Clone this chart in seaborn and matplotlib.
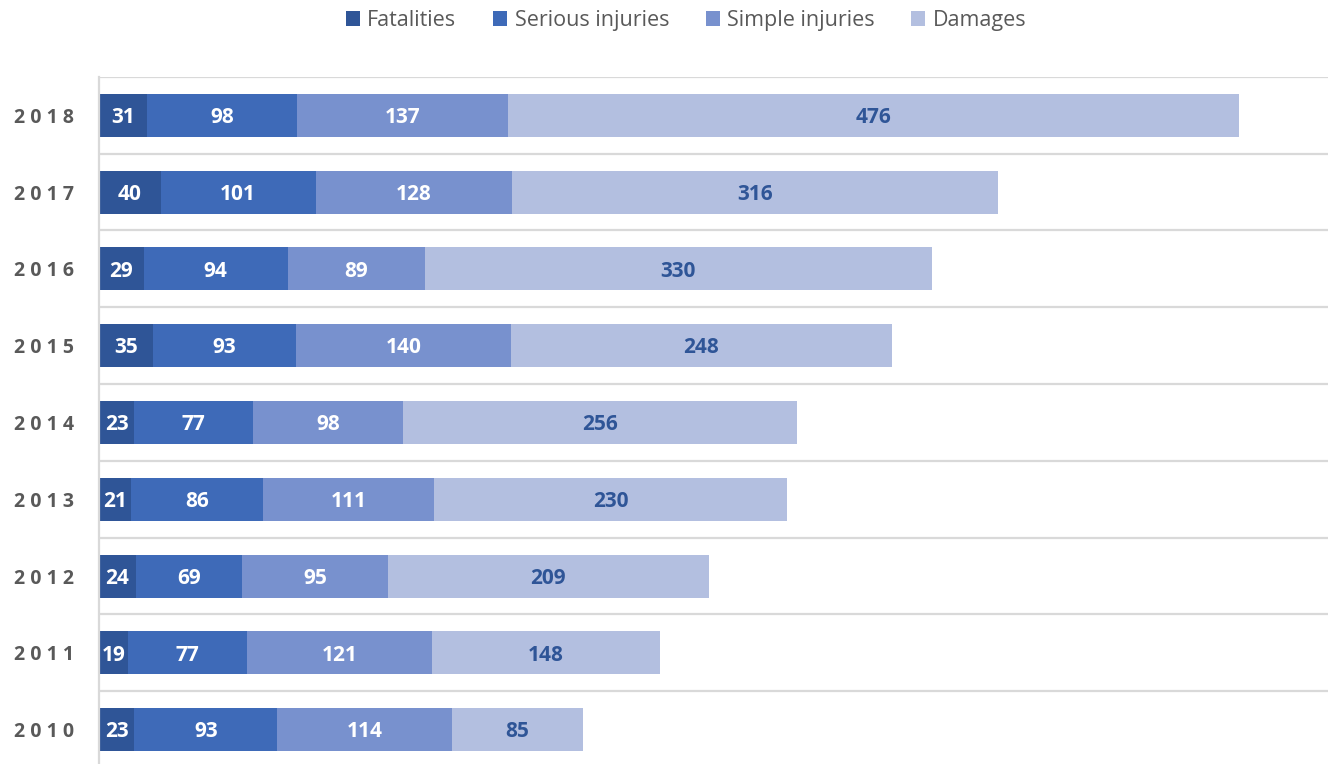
import numpy as np
import pandas as pd
import seaborn as sns
import matplotlib.pyplot as plt
from matplotlib.patches import Patch

years = ['2018', '2017', '2016', '2015', '2014', '2013', '2012', '2011', '2010']
fatalities = [31, 40, 29, 35, 23, 21, 24, 19, 23]
serious = [98, 101, 94, 93, 77, 86, 69, 77, 93]
simple = [137, 128, 89, 140, 98, 111, 95, 121, 114]
damages = [476, 316, 330, 248, 256, 230, 209, 148, 85]

series = ['Fatalities', 'Serious injuries', 'Simple injuries', 'Damages']
colors = ['#2F5597', '#3E6AB8', '#7891CE', '#B3BFE0']
text_colors = ['white', 'white', 'white', '#2F5597']

df = pd.DataFrame({'year': years, 'Fatalities': fatalities,
                   'Serious injuries': serious, 'Simple injuries': simple,
                   'Damages': damages})

sns.set_theme(style='white')
plt.rcParams['font.family'] = ['Open Sans', 'DejaVu Sans']

fig = plt.figure(figsize=(13.35, 7.64), dpi=100)
ax = fig.add_axes([0.0742, -0.0052, 0.9206, 0.9045])

# stacked bars: draw cumulative totals from the widest down
cum = df[series].cumsum(axis=1)
for i in range(len(series) - 1, -1, -1):
    sns.barplot(x=cum[series[i]], y=df['year'], orient='h', color=colors[i],
                width=0.56, ax=ax, saturation=1, linewidth=0)

# segment labels
for r in range(len(years)):
    left = 0
    for i, s in enumerate(series):
        v = df[s][r]
        ax.text(left + v / 2, r + 0.03, str(v), ha='center', va='center',
                color=text_colors[i], fontsize=15, fontweight='bold')
        left += v

ax.set_xlim(0, 800)
ax.set_ylim(len(years) - 0.5, -0.5)
ax.set_xlabel('')
ax.set_ylabel('')
ax.set_xticks([])
ax.set_yticks(range(len(years)))
ax.set_yticklabels([' '.join(y) for y in years], fontsize=14,
                   fontweight='bold', color='#595959')
ax.tick_params(axis='y', length=0, pad=18)
for t in ax.get_yticklabels():
    t.set_y(t.get_position()[1])

# horizontal separators between categories
for b in np.arange(-0.5, len(years), 1):
    ax.axhline(b, color='#D9D9D9', linewidth=1.6, zorder=0)

for sp in ['top', 'right', 'bottom']:
    ax.spines[sp].set_visible(False)
ax.spines['left'].set_color('#D9D9D9')
ax.spines['left'].set_linewidth(1.6)

handles = [Patch(facecolor=c, edgecolor='none', label=s) for s, c in zip(series, colors)]
fig.legend(handles=handles, loc='center', bbox_to_anchor=(0.514, 0.973), ncol=4,
           frameon=False, fontsize=15.5, labelcolor='#595959', handlelength=0.65,
           handleheight=0.65, handletextpad=0.35, columnspacing=1.7)

fig.savefig('out.png', dpi=100)
